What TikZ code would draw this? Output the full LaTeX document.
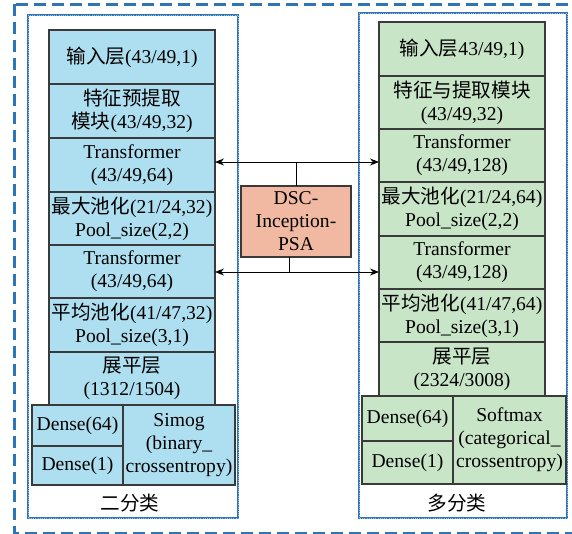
\documentclass[tikz,border=0pt]{standalone}
\usepackage{fontspec}
\setmainfont{Liberation Serif}
\newfontfamily\cjk{Noto Sans CJK SC}
\usetikzlibrary{arrows.meta}
\definecolor{bluefill}{HTML}{AEDFF0}
\definecolor{greenfill}{HTML}{C9E5C8}
\definecolor{salmonfill}{HTML}{F2B9A2}
\definecolor{frameblue}{HTML}{2E75B6}
\definecolor{edgegray}{HTML}{3A3A3A}
\begin{document}
\begin{tikzpicture}[x=1pt,y=-1pt,
  every node/.style={font=\fontsize{19.6}{23}\selectfont, align=center, inner sep=0pt, outer sep=0pt},
  blk/.style={draw=edgegray, line width=1.3pt, minimum width=166pt},
  lblk/.style={blk, fill=bluefill},
  rblk/.style={blk, fill=greenfill},
  cell/.style={draw=edgegray, line width=1.3pt},
  frame/.style={draw=frameblue, line width=2.2pt},
  framedots/.style={draw=white, opacity=0.55, line width=0.6pt, dash pattern=on 0.6pt off 1.6pt},
  outerframe/.style={draw=frameblue, line width=3pt, dash pattern=on 12pt off 6pt},
  arr/.style={draw=black, line width=0.9pt, -{Stealth[length=9pt,width=7pt]}},
  link/.style={draw=black, line width=0.9pt}
]
\useasboundingbox (0,0) rectangle (572,533);
\fill[white] (0,0) rectangle (572,533);
% outer dashed frame
\draw[outerframe] (14,4) rectangle (590,533);
% inner frames
\draw[frame] (28,15) rectangle (238,518);
\draw[framedots] (28,15) rectangle (238,518);
\draw[frame] (359,13) rectangle (567,518);
\draw[framedots] (359,13) rectangle (567,518);

% left column
\node[lblk, minimum height=54pt] (l1) at (132,57) {{\cjk 输入层}(43/49,1)};
\node[lblk, minimum height=54pt] (l2) at (132,111) {{\cjk 特征预提取}\\{\cjk 模块}(43/49,32)};
\node[lblk, minimum height=54pt] (l3) at (132,165) {Transformer\\(43/49,64)};
\node[lblk, minimum height=53pt] (l4) at (132,218.5) {{\cjk 最大池化}(21/24,32)\\Pool\_size(2,2)};
\node[lblk, minimum height=53pt] (l5) at (132,271.5) {Transformer\\(43/49,64)};
\node[lblk, minimum height=54pt] (l6) at (132,325) {{\cjk 平均池化}(41/47,32)\\Pool\_size(3,1)};
\node[lblk, minimum height=53pt] (l7) at (132,378.5) {{\cjk 展平层}\\(1312/1504)};
\node[cell, fill=bluefill, minimum width=91pt, minimum height=41pt] (ld64) at (77.5,425.5) {Dense(64)};
\node[cell, fill=bluefill, minimum width=91pt, minimum height=39pt] (ld1) at (77.5,465.5) {Dense(1)};
\node[cell, fill=bluefill, minimum width=112pt, minimum height=80pt] (lsig) at (179,445) {Simog\\(binary\_\\crossentropy)};
\node (lcap) at (130,503) {\cjk 二分类};

% right column
\node[rblk, minimum height=54pt] (r1) at (462,49) {{\cjk 输入层}43/49,1)};
\node[rblk, minimum height=53pt] (r2) at (462,102.5) {{\cjk 特征与提取模块}\\(43/49,32)};
\node[rblk, minimum height=53pt] (r3) at (462,155.5) {Transformer\\(43/49,128)};
\node[rblk, minimum height=54pt] (r4) at (462,209) {{\cjk 最大池化}(21/24,64)\\Pool\_size(2,2)};
\node[rblk, minimum height=53pt] (r5) at (462,262.5) {Transformer\\(43/49,128)};
\node[rblk, minimum height=53pt] (r6) at (462,315.5) {{\cjk 平均池化}(41/47,64)\\Pool\_size(3,1)};
\node[rblk, minimum height=54pt] (r7) at (462,369) {{\cjk 展平层}\\(2324/3008)};
\node[cell, fill=greenfill, minimum width=91pt, minimum height=45pt] (rd64) at (407.5,418.5) {Dense(64)};
\node[cell, fill=greenfill, minimum width=91pt, minimum height=43pt] (rd1) at (407.5,462.5) {Dense(1)};
\node[cell, fill=greenfill, minimum width=113pt, minimum height=88pt] (rsoft) at (509.5,440) {Softmax\\(categorical\_\\crossentropy)};
\node (rcap) at (457,503) {\cjk 多分类};

% center module
\node[draw=edgegray, line width=1.3pt, fill=salmonfill, minimum width=110pt, minimum height=71pt] (dsc) at (296,221.5) {DSC-\\Inception-\\PSA};

\coordinate (up) at (296,162);
\coordinate (dn) at (289,272);
\draw[link] (dsc.north) -- (up);
\draw[arr] (up) -- (up -| l3.east);
\draw[arr] (up) -- (up -| r3.west);
\draw[link] (dsc.south -| dn) -- (dn);
\draw[arr] (dn) -- (dn -| l5.east);
\draw[arr] (dn) -- (dn -| r5.west);
\end{tikzpicture}
\end{document}
